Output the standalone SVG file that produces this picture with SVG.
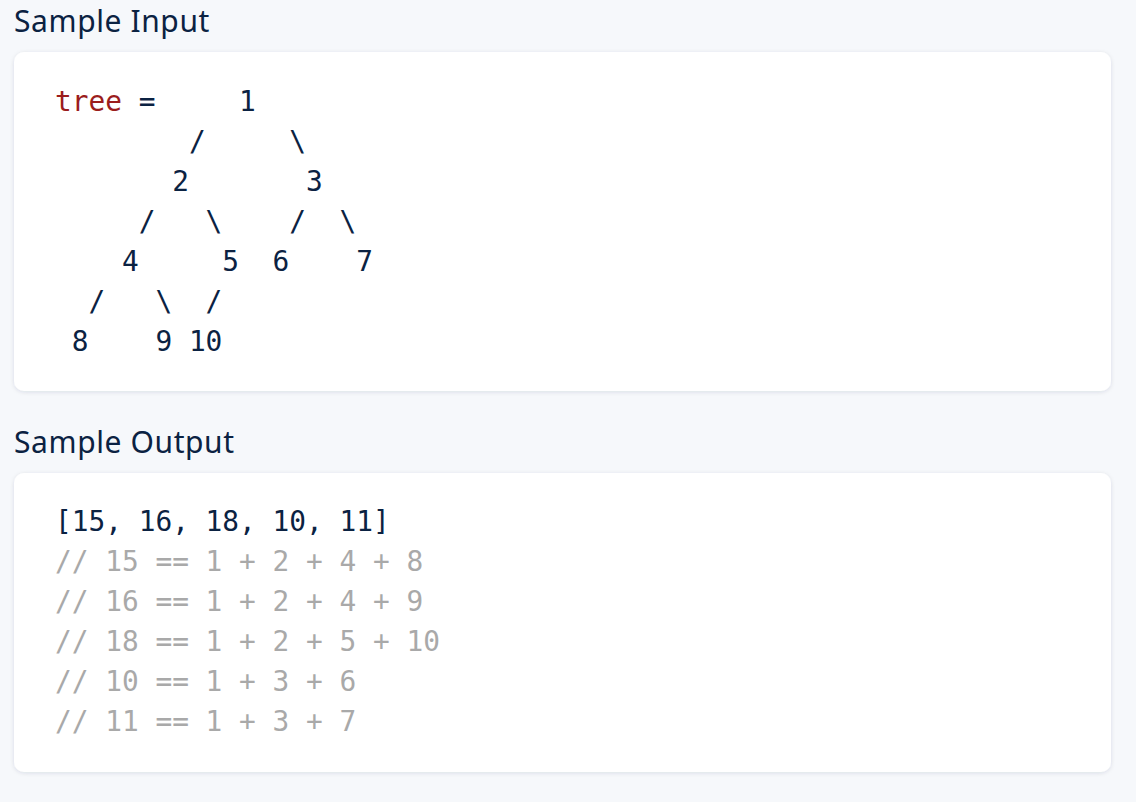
<svg xmlns="http://www.w3.org/2000/svg" width="1136" height="802" viewBox="0 0 1136 802">
<defs>
<filter id="sh" x="-5%" y="-10%" width="110%" height="120%">
<feDropShadow dx="0" dy="1" stdDeviation="2" flood-color="#1a2b4c" flood-opacity="0.12"/>
</filter>
<style>
.h{font-family:"Noto Sans","Open Sans",sans-serif;font-size:30px;letter-spacing:0.6px;fill:#0b2242}
.c{font-family:"DejaVu Sans Mono","Liberation Mono",monospace;font-size:27.8px;fill:#0b2242;white-space:pre}
.k{fill:#9b1d1d}
.g{fill:#a9a9a9}
.card{fill:#ffffff;filter:url(#sh)}
</style>
</defs>
<rect width="1136" height="802" fill="#f6f8fb"/>
<g id="input">
<text class="h" x="14" y="32">Sample Input</text>
<rect class="card" x="14" y="52" width="1097" height="339" rx="10"/>
<text class="c" xml:space="preserve" x="55" y="111"><tspan class="k">tree</tspan> =     1</text>
<text class="c" xml:space="preserve" x="55" y="151">        /     \</text>
<text class="c" xml:space="preserve" x="55" y="191">       2       3</text>
<text class="c" xml:space="preserve" x="55" y="231">     /   \    /  \</text>
<text class="c" xml:space="preserve" x="55" y="271">    4     5  6    7</text>
<text class="c" xml:space="preserve" x="55" y="311">  /   \  /</text>
<text class="c" xml:space="preserve" x="55" y="351"> 8    9 10</text>
</g>
<g id="output">
<text class="h" x="14" y="453">Sample Output</text>
<rect class="card" x="14" y="473" width="1097" height="299" rx="10"/>
<text class="c" xml:space="preserve" x="55" y="531">[15, 16, 18, 10, 11]</text>
<text class="c g" xml:space="preserve" x="55" y="571">// 15 == 1 + 2 + 4 + 8</text>
<text class="c g" xml:space="preserve" x="55" y="611">// 16 == 1 + 2 + 4 + 9</text>
<text class="c g" xml:space="preserve" x="55" y="651">// 18 == 1 + 2 + 5 + 10</text>
<text class="c g" xml:space="preserve" x="55" y="691">// 10 == 1 + 3 + 6</text>
<text class="c g" xml:space="preserve" x="55" y="731">// 11 == 1 + 3 + 7</text>
</g>
</svg>
